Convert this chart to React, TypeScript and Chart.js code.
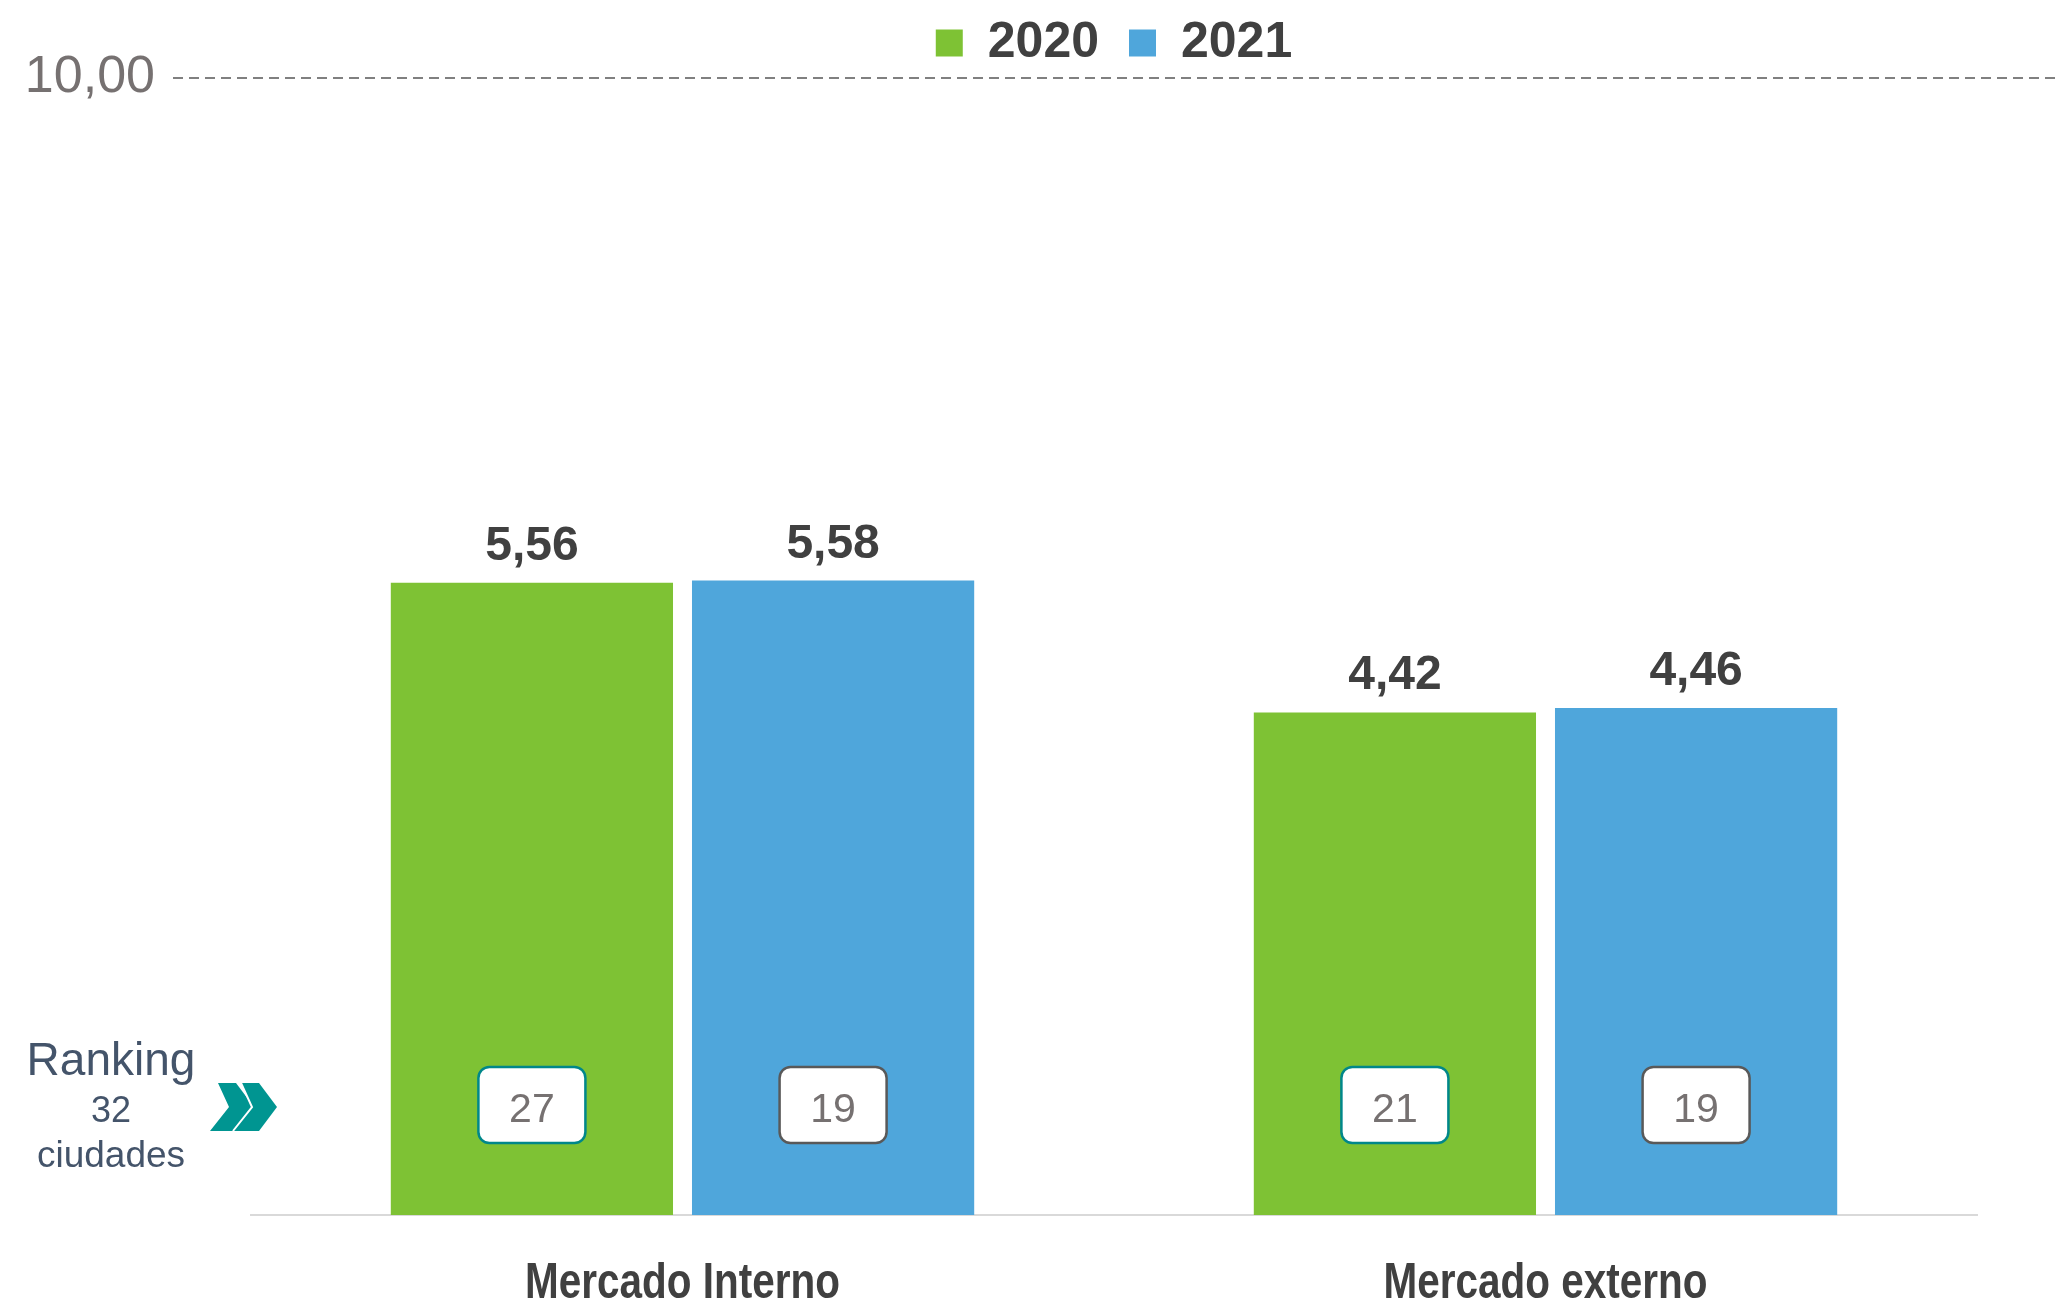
import React, { useEffect, useRef } from "react";
import { Chart, registerables } from "chart.js";

Chart.register(...registerables);

// ---- data ----
const CATEGORIES = ["Mercado Interno", "Mercado externo"];
const SERIES_LABELS = ["2020", "2021"];
const VALUES_2020 = [5.56, 4.42];
const VALUES_2021 = [5.58, 4.46];
const RANK_2020 = [27, 21];
const RANK_2021 = [19, 19];
const RANK_TOTAL = 32;
const RANK_TITLE = "Ranking";
const RANK_UNIT = "ciudades";
const Y_MIN = 0;
const Y_MAX = 10;
const Y_TICKS = [10];

// ---- styles ----
const COLORS = ["#7EC234", "#4FA6DB"];
const RANK_BORDERS = ["#00878A", "#595959"];
const SANS = '"Liberation Sans", Arial, sans-serif';

const fmt = (v: number) => v.toFixed(2).replace(".", ",");

const decorPlugin = {
  id: "decor",
  afterDraw(chart: any) {
    const { ctx, chartArea, scales } = chart;
    const ys = scales.y;
    const xs = scales.x;
    ctx.save();

    // dashed reference line at the top tick
    const yl = ys.getPixelForValue(Y_TICKS[0]);
    ctx.strokeStyle = "#808080";
    ctx.lineWidth = 2;
    ctx.setLineDash([10, 6]);
    ctx.beginPath();
    ctx.moveTo(chartArea.left - 78, yl);
    ctx.lineTo(chart.width, yl);
    ctx.stroke();
    ctx.setLineDash([]);

    // category labels (condensed bold)
    ctx.fillStyle = "#404040";
    ctx.font = `bold 50px ${SANS}`;
    ctx.textAlign = "center";
    ctx.textBaseline = "alphabetic";
    CATEGORIES.forEach((lab, i) => {
      ctx.save();
      ctx.translate(xs.getPixelForValue(i), chartArea.bottom + 83);
      ctx.scale(0.81, 1);
      ctx.fillText(lab, 0, 0);
      ctx.restore();
    });

    const ranks = [RANK_2020, RANK_2021];
    chart.data.datasets.forEach((ds: any, di: number) => {
      const meta = chart.getDatasetMeta(di);
      meta.data.forEach((bar: any, i: number) => {
        // value label
        ctx.fillStyle = "#404040";
        ctx.font = `bold 48px ${SANS}`;
        ctx.textAlign = "center";
        ctx.textBaseline = "alphabetic";
        ctx.fillText(fmt(ds.data[i]), bar.x, bar.y - 23);

        // ranking box
        const cy = chartArea.bottom - 110;
        const w = 107;
        const h = 76;
        ctx.beginPath();
        (ctx as any).roundRect(bar.x - w / 2, cy - h / 2, w, h, 11);
        ctx.fillStyle = "#FFFFFF";
        ctx.fill();
        ctx.strokeStyle = RANK_BORDERS[di];
        ctx.lineWidth = 2.5;
        ctx.stroke();
        ctx.fillStyle = "#767171";
        ctx.font = `41px ${SANS}`;
        ctx.fillText(String(ranks[di][i]), bar.x, chartArea.bottom - 93);
      });
    });

    // ranking caption
    const cx = chartArea.left - 140;
    const b = chartArea.bottom;
    ctx.fillStyle = "#44546A";
    ctx.textAlign = "center";
    ctx.font = `46px ${SANS}`;
    ctx.fillText(RANK_TITLE, cx, b - 140);
    ctx.font = `36px ${SANS}`;
    ctx.fillText(String(RANK_TOTAL), cx, b - 93);
    ctx.font = `37px ${SANS}`;
    ctx.fillText(RANK_UNIT, cx, b - 48);

    // double chevron
    const top = b - 132;
    const bot = b - 84;
    const mid = (top + bot) / 2;
    [0, 23].forEach((off, k) => {
      const x0 = chartArea.left - 41 + off;
      ctx.beginPath();
      ctx.moveTo(x0 + 8, top);
      ctx.lineTo(x0 + 26, top);
      ctx.lineTo(x0 + 44, mid);
      ctx.lineTo(x0 + 26, bot);
      ctx.lineTo(x0, bot);
      ctx.lineTo(x0 + 19, mid);
      ctx.closePath();
      ctx.fillStyle = "#009591";
      ctx.fill();
      if (k === 1) {
        ctx.strokeStyle = "#FFFFFF";
        ctx.lineWidth = 2;
        ctx.beginPath();
        ctx.moveTo(x0 + 8, top);
        ctx.lineTo(x0 + 19, mid);
        ctx.lineTo(x0, bot);
        ctx.stroke();
      }
    });

    ctx.restore();
  },
};

export default function App() {
  const ref = useRef<HTMLCanvasElement | null>(null);

  useEffect(() => {
    if (!ref.current) return;
    const chart = new Chart(ref.current, {
      type: "bar",
      data: {
        labels: CATEGORIES,
        datasets: [
          {
            label: SERIES_LABELS[0],
            data: VALUES_2020,
            backgroundColor: COLORS[0],
            borderWidth: 0,
            categoryPercentage: 0.698,
            barPercentage: 0.937,
          },
          {
            label: SERIES_LABELS[1],
            data: VALUES_2021,
            backgroundColor: COLORS[1],
            borderWidth: 0,
            categoryPercentage: 0.698,
            barPercentage: 0.937,
          },
        ],
      },
      options: {
        responsive: false,
        animation: false,
        devicePixelRatio: 1,
        events: [],
        layout: { padding: { top: -12, left: 25, right: 79, bottom: 0 } },
        plugins: {
          tooltip: { enabled: false },
          legend: {
            display: true,
            position: "top",
            fullSize: false,
            labels: {
              boxWidth: 27,
              boxHeight: 27,
              padding: 30,
              color: "#404040",
              font: { family: SANS, size: 50, weight: "bold" },
            },
          },
        },
        scales: {
          x: {
            grid: { display: false, drawTicks: false },
            border: { display: true, color: "#D9D9D9", width: 2 },
            ticks: { display: false },
            afterFit: (axis: any) => {
              axis.height = 88;
            },
          },
          y: {
            min: Y_MIN,
            max: Y_MAX,
            afterBuildTicks: (axis: any) => {
              axis.ticks = Y_TICKS.map((v) => ({ value: v }));
            },
            afterFit: (axis: any) => {
              axis.width = 226;
              axis.paddingTop = 40;
              axis.paddingBottom = 0;
            },
            grid: { display: false, drawTicks: false },
            border: { display: false },
            ticks: {
              padding: 96,
              color: "#767171",
              font: { family: SANS, size: 52 },
              callback: (v: any) => fmt(Number(v)),
            },
          },
        },
      },
      plugins: [decorPlugin],
    });
    return () => chart.destroy();
  }, []);

  return (
    <div style={{ position: "absolute", left: 0, top: 0, width: 2056, height: 1303, background: "#fff" }}>
      <canvas ref={ref} width={2056} height={1303} style={{ display: "block" }} />
    </div>
  );
}
